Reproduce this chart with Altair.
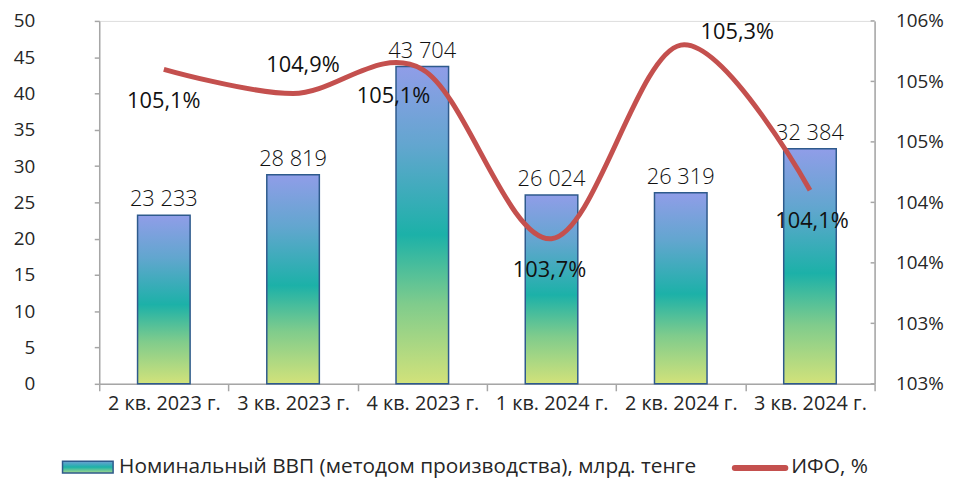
import altair as alt
import pandas as pd

categories = ["2 кв. 2023 г.", "3 кв. 2023 г.", "4 кв. 2023 г.",
              "1 кв. 2024 г.", "2 кв. 2024 г.", "3 кв. 2024 г."]
gdp = [23233, 28819, 43704, 26024, 26319, 32384]          # млрд. тенге
ifo = [105.1, 104.9, 105.1, 103.7, 105.3, 104.1]          # %
left_ticks = [0, 5, 10, 15, 20, 25, 30, 35, 40, 45, 50]
right_ticks = [102.5, 103.0, 103.5, 104.0, 104.5, 105.0, 105.5]
legend_labels = ["Номинальный ВВП (методом производства), млрд. тенге", "ИФО, %"]

# label offsets (pixels) for the ИФО data labels
ifo_label_offsets = {
    "2 кв. 2023 г.": (0, 32),
    "3 кв. 2023 г.": (10, -29),
    "4 кв. 2023 г.": (-29, 27),
    "1 кв. 2024 г.": (-2, 32),
    "2 кв. 2024 г.": (57, -13),
    "3 кв. 2024 г.": (2, 31),
}

FONT = "Open Sans"
AXIS_COLOR = "#a6a6a6"
TEXT_COLOR = "#262626"

df = pd.DataFrame({
    "cat": categories,
    "gdp": [v / 1000 for v in gdp],
    "gdp_label": [f"{v:,}".replace(",", " ") for v in gdp],
    "ifo": ifo,
    "ifo_label": [f"{v:.1f}".replace(".", ",") + "%" for v in ifo],
})

x_axis = alt.Axis(title=None, tickBand="extent", tickSize=7,
                  tickColor=AXIS_COLOR, tickWidth=1.5,
                  domainColor=AXIS_COLOR, domainWidth=1.5,
                  labelFont=FONT, labelFontSize=20,
                  labelColor=TEXT_COLOR, labelPadding=3,
                  labelAngle=0)
x_enc = alt.X("cat:N", sort=categories,
              scale=alt.Scale(paddingInner=0, paddingOuter=0), axis=x_axis)

left_axis = alt.Axis(title=None, values=left_ticks, grid=False,
                     labelOverlap=False, labelBound=False, labelFlush=False,
                     labelSeparation=0,
                     tickSize=5, tickColor=AXIS_COLOR, tickWidth=1.5,
                     domainColor=AXIS_COLOR, domainWidth=1.5,
                     labelFont=FONT, labelFontSize=19,
                     labelColor=TEXT_COLOR, labelPadding=60)
y_left = alt.Y("gdp:Q", scale=alt.Scale(domain=[0, 50], nice=False), axis=left_axis)

grad = alt.LinearGradient(
    gradient="linear", x1=0, y1=1, x2=0, y2=0,
    stops=[alt.GradientStop(offset=0, color="#d2e27a"),
           alt.GradientStop(offset=0.25, color="#80cc8c"),
           alt.GradientStop(offset=0.47, color="#1cb1a8"),
           alt.GradientStop(offset=0.75, color="#62a6cf"),
           alt.GradientStop(offset=1, color="#909de8")])

bars = alt.Chart(df).mark_bar(size=53, fill=grad, stroke="#2e5a8c",
                              strokeWidth=1.5).encode(x=x_enc, y=y_left)
bar_text = alt.Chart(df).mark_text(baseline="bottom", dy=-4, font=FONT,
                                   fontSize=22, fontWeight=300,
                                   color="#111111").encode(
    x=x_enc, y=y_left, text="gdp_label:N")

right_axis = alt.Axis(title=None, orient="right", values=right_ticks,
                      grid=False, ticks=False, labelOverlap=False,
                      labelSeparation=0, labelBound=False, labelFlush=False,
                      labelExpr="round(datum.value) + '%'",
                      domainColor=AXIS_COLOR, domainWidth=1.5,
                      labelFont=FONT, labelFontSize=19,
                      labelColor=TEXT_COLOR, labelPadding=21)
y_right = alt.Y("ifo:Q", scale=alt.Scale(domain=[102.5, 105.5], nice=False, zero=False),
                axis=right_axis)

line = alt.Chart(df).mark_line(interpolate="cardinal", color="#c4504e",
                               strokeWidth=5).encode(x=x_enc, y=y_right)

tick_df = pd.DataFrame({"ifo": right_ticks})
right_tick_marks = alt.Chart(tick_df).mark_rule(color=AXIS_COLOR, strokeWidth=1.5).encode(
    x=alt.value(778), x2=alt.value(782), y=y_right)

ifo_texts = []
for c in categories:
    dx, dy = ifo_label_offsets[c]
    ifo_texts.append(
        alt.Chart(df).transform_filter(alt.datum.cat == c)
        .mark_text(dx=dx, dy=dy, font=FONT, fontSize=22, fontWeight=500,
                   color="#111111", baseline="middle")
        .encode(x=x_enc, y=y_right, text="ifo_label:N"))

legend_df = pd.DataFrame({"label": legend_labels})
leg_swatch = alt.Chart(legend_df.iloc[[0]]).mark_rect(
    fill=alt.LinearGradient(
        gradient="linear", x1=0, y1=0, x2=0, y2=1,
        stops=[alt.GradientStop(offset=0, color="#6f9fd6"),
               alt.GradientStop(offset=0.5, color="#1cb1a8"),
               alt.GradientStop(offset=1, color="#a8d88a")]),
    stroke="#2e5a8c", strokeWidth=1.5).encode(
    x=alt.value(-37), x2=alt.value(14), y=alt.value(444), y2=alt.value(456))
leg_text1 = alt.Chart(legend_df.iloc[[0]]).mark_text(
    align="left", baseline="middle", font=FONT, fontSize=21,
    color=TEXT_COLOR).encode(x=alt.value(20), y=alt.value(450), text="label:N")
leg_line = alt.Chart(legend_df.iloc[[1]]).mark_rule(
    color="#c4504e", strokeWidth=6, strokeCap="round").encode(
    x=alt.value(641), x2=alt.value(692), y=alt.value(451))
leg_text2 = alt.Chart(legend_df.iloc[[1]]).mark_text(
    align="left", baseline="middle", font=FONT, fontSize=21,
    color=TEXT_COLOR).encode(x=alt.value(698), y=alt.value(450), text="label:N")

left_layer = alt.layer(bars, bar_text)
right_layer = alt.layer(line, right_tick_marks, *ifo_texts)

chart = alt.layer(left_layer, right_layer, leg_swatch, leg_text1, leg_line, leg_text2) \
    .resolve_scale(y="independent") \
    .properties(width=782, height=366,
                autosize=alt.AutoSizeParams(type="none"),
                padding={"left": 92, "top": 11, "right": 71, "bottom": 98}) \
    .configure_view(stroke=None) \
    .configure_axis(labelOverlap=False, labelSeparation=0) \
    .configure(background="white")

chart.save("out.html", embed_options={"renderer": "svg", "actions": False})
